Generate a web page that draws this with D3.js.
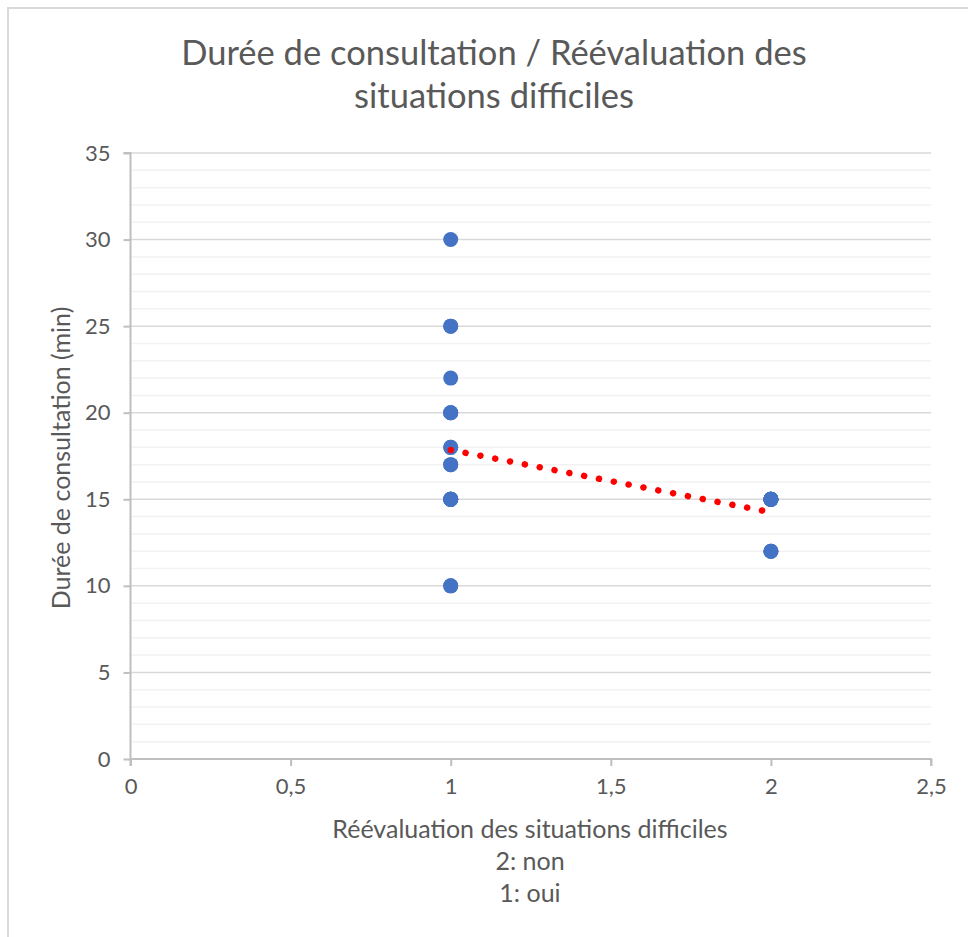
<!DOCTYPE html>
<html>
<head>
<meta charset="utf-8">
<script src="https://cdn.jsdelivr.net/npm/d3@7"></script>
<style>
	body { margin: 0; background: #fff; }
	svg text { font-family: Lato, "Open Sans", sans-serif; fill: #595959; }
</style>
</head>
<body>
<svg id="chart" width="968" height="937"></svg>
<script>
// chart data (duplicates overlap on the same spot)
const reevaluation = [1,1,1,1,1,1,1,1,1,1,1,1,1,1,1,1,1,1,1,1, 2,2,2,2,2,2,2,2,2,2,2,2];
const duree =        [30,25,25,22,20,20,20,18,18,17,17,15,15,15,15,15,15,15,10,10, 15,15,15,15,15,15,15,15,15,12,12,12];
const xTicks = [0, 0.5, 1, 1.5, 2, 2.5];
const yTicks = [0, 5, 10, 15, 20, 25, 30, 35];
const titleLines = ['Durée de consultation / Réévaluation des', 'situations difficiles'];
const xTitleLines = ['Réévaluation des situations difficiles', '2: non', '1: oui'];
const yTitle = 'Durée de consultation (min)';

// geometry
const plot = {left: 130.5, right: 931, top: 153, bottom: 759};
const svg = d3.select('#chart');

// chart border (only top and left show in the frame)
svg.append('rect').attr('x', 8).attr('y', 8).attr('width', 1000).attr('height', 1000)
	.attr('fill', 'none').attr('stroke', '#d9d9d9').attr('stroke-width', 2);

const x = d3.scaleLinear().domain([0, 2.5]).range([plot.left, plot.right]);
const y = d3.scaleLinear().domain([0, 35]).range([plot.bottom, plot.top]);
const fmt = d => String(d).replace('.', ',');

// minor gridlines every 1 unit
const grid = svg.append('g');
grid.selectAll('line.minor').data(d3.range(1, 35).filter(v => v % 5 != 0)).enter()
	.append('line').attr('class', 'minor')
	.attr('x1', plot.left).attr('x2', plot.right)
	.attr('y1', d => y(d)).attr('y2', d => y(d))
	.attr('stroke', '#f2f2f2').attr('stroke-width', 1.5);
grid.selectAll('line.major').data(yTicks.slice(1)).enter()
	.append('line').attr('class', 'major')
	.attr('x1', plot.left).attr('x2', plot.right)
	.attr('y1', d => y(d)).attr('y2', d => y(d))
	.attr('stroke', '#d9d9d9').attr('stroke-width', 1.5);

// axes
const yAxis = svg.append('g').attr('transform', `translate(${plot.left},0)`)
	.call(d3.axisLeft(y).tickValues(yTicks).tickFormat(fmt).tickSize(7).tickPadding(13));
const xAxis = svg.append('g').attr('transform', `translate(0,${plot.bottom})`)
	.call(d3.axisBottom(x).tickValues(xTicks).tickFormat(fmt).tickSize(7).tickPadding(12));
for (const ax of [xAxis, yAxis]) {
	ax.attr('font-family', null).attr('font-size', null);
	ax.select('.domain').attr('stroke', '#bfbfbf').attr('stroke-width', 2);
	ax.selectAll('.tick line').attr('stroke', '#bfbfbf').attr('stroke-width', 2);
	ax.selectAll('.tick text').attr('font-size', 22).attr('fill', '#595959');
}
xAxis.select('.domain').attr('d', `M${plot.left},7V0H${plot.right}V7`);
yAxis.select('.domain').attr('d', `M-7,${plot.top}H0V${plot.bottom}`);

// trend line (least squares over all points)
const mx = d3.mean(reevaluation), my = d3.mean(duree);
const slope = d3.sum(reevaluation, (v, i) => (v - mx) * (duree[i] - my)) /
	d3.sum(reevaluation, v => (v - mx) * (v - mx));
const icpt = my - slope * mx;
const xr = d3.extent(reevaluation);

// points
svg.append('g').selectAll('circle').data(reevaluation.map((v, i) => [v, duree[i]])).enter()
	.append('circle').attr('cx', d => x(d[0])).attr('cy', d => y(d[1])).attr('r', 7.5)
	.attr('fill', '#4472c4');

svg.append('line')
	.attr('x1', x(xr[0])).attr('y1', y(icpt + slope * xr[0]))
	.attr('x2', x(xr[1])).attr('y2', y(icpt + slope * xr[1]))
	.attr('stroke', '#ff0000').attr('stroke-width', 6.5)
	.attr('stroke-linecap', 'round').attr('stroke-dasharray', '0.1 15');

// titles
svg.append('text').attr('text-anchor', 'middle').attr('font-size', 34.5)
	.selectAll('tspan').data(titleLines).enter().append('tspan')
	.attr('x', 494).attr('y', (d, i) => 65 + i * 43).text(d => d);
svg.append('text').attr('text-anchor', 'middle').attr('font-size', 25)
	.selectAll('tspan').data(xTitleLines).enter().append('tspan')
	.attr('x', 530).attr('y', (d, i) => 838 + i * 32).text(d => d);
svg.append('text').attr('text-anchor', 'middle').attr('font-size', 25)
	.attr('transform', `translate(70,458) rotate(-90)`)
	.text(yTitle);
</script>
</body>
</html>
